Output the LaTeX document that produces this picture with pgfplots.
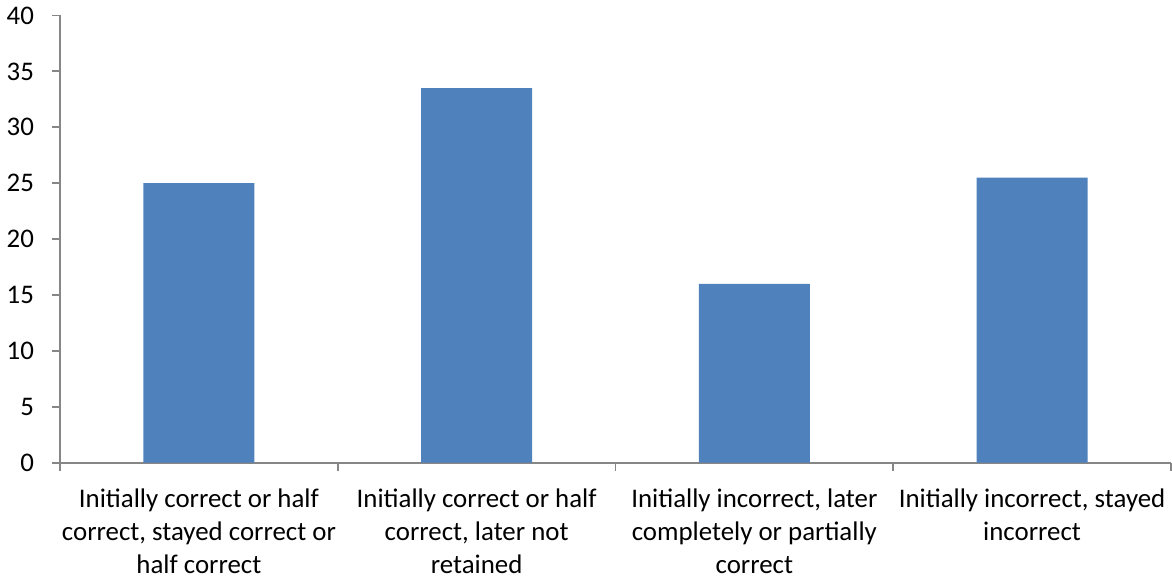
\documentclass[border=0pt]{standalone}
\usepackage{fontspec}
\setmainfont{Carlito}
\usepackage{pgfplots}
\pgfplotsset{compat=1.18}
\definecolor{barblue}{HTML}{4F81BD}
\definecolor{axgray}{HTML}{868686}
\begin{document}
\begin{tikzpicture}
\begin{axis}[
  scale only axis,
  width=554pt, height=223pt,
  ymin=0, ymax=40, ytick={0,5,...,40},
  xmin=-0.5, xmax=3.5,
  xtick={0,1,2,3},
  xticklabels={{Initially correct or half\\correct, stayed correct or\\half correct},
               {Initially correct or half\\correct, later not\\retained},
               {Initially incorrect, later\\completely or partially\\correct},
               {Initially incorrect, stayed\\incorrect}},
  minor xtick={-0.5,0.5,1.5,2.5,3.5},
  major x tick style={draw=none},
  tick align=outside,
  major tick length=4pt, minor tick length=4pt,
  tick style={axgray, line width=0.9pt},
  axis x line*=bottom, axis y line*=left,
  axis line style={axgray, line width=0.9pt, -},
  /pgf/number format/assume math mode=true,
  ticklabel style={font=\fontsize{13.4}{16.4}\selectfont, text=black},
  xticklabel style={align=center, yshift=-5.5pt},
  yticklabel style={xshift=-5.5pt},
  ybar, bar width=0.4,
]
\addplot[fill=barblue, draw=none] coordinates {(0,25) (1,33.5) (2,16) (3,25.5)};
\end{axis}
\end{tikzpicture}
\end{document}
